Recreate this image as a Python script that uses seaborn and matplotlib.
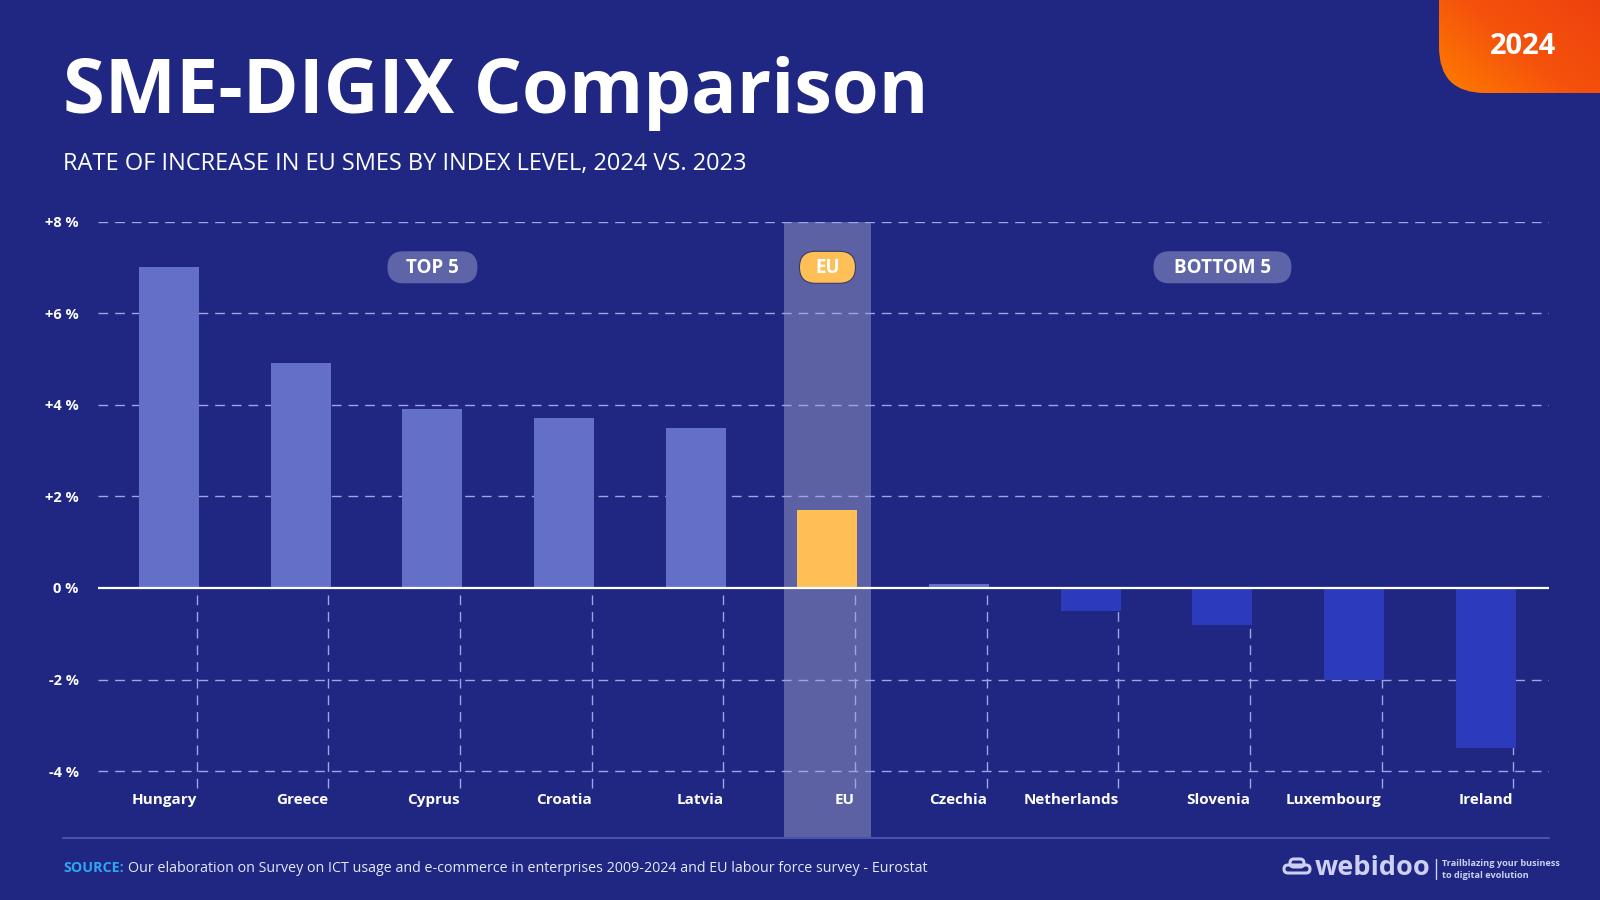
import matplotlib
matplotlib.use('Agg')
import matplotlib.pyplot as plt
import seaborn as sns
import numpy as np
import pandas as pd
from matplotlib.patches import FancyBboxPatch
from matplotlib.colors import LinearSegmentedColormap

# data
countries = ['Hungary', 'Greece', 'Cyprus', 'Croatia', 'Latvia', 'EU',
             'Czechia', 'Netherlands', 'Slovenia', 'Luxembourg', 'Ireland']
rates = [7.0, 4.9, 3.9, 3.7, 3.5, 1.7, 0.08, -0.5, -0.8, -2.0, -3.5]
y_ticks = [8, 6, 4, 2, 0, -2, -4]
y_labels = ['+8 %', '+6 %', '+4 %', '+2 %', '0 %', '-2 %', '-4 %']
pill_labels = ['TOP 5', 'EU', 'BOTTOM 5']
pill_centers = [2, 5, 8]

title = 'SME-DIGIX Comparison'
subtitle = 'RATE OF INCREASE IN EU SMES BY INDEX LEVEL, 2024 VS. 2023'
source_head = 'SOURCE:'
source_body = ('Our elaboration on Survey on ICT usage and e-commerce in enterprises '
               '2009-2024 and EU labour force survey - Eurostat')
year_badge = '2024'

df = pd.DataFrame({'country': countries, 'rate': rates})

navy = '#1F2782'
grid_col = '#9EA5E6'
# EU in yellow, increases light blue, decreases deep blue
bar_colors = {}
for c, v in zip(countries, rates):
    if c == 'EU':
        bar_colors[c] = '#FFBF57'
    elif v > 0:
        bar_colors[c] = '#6470C8'
    else:
        bar_colors[c] = '#2B3BBB'

sns.set_theme(style='dark')
plt.rcParams['font.family'] = ['Open Sans', 'DejaVu Sans']

fig = plt.figure(figsize=(16, 9), dpi=100, facecolor=navy)
ax = fig.add_axes([98 / 1600, 62 / 900, 1451 / 1600, 616.5 / 900])
ax.set_facecolor('none')

sns.barplot(data=df, x='country', y='rate', hue='country', palette=bar_colors,
            width=0.456, dodge=False, errorbar=None, legend=False,
            saturation=1, linewidth=0, edgecolor='none', ax=ax, zorder=3)

ax.set_xlim(-0.54, 10.48)
ax.set_ylim(-5.46, 8)

# EU highlight band
ax.axvspan(5 - 0.333, 5 + 0.333, color='white', alpha=0.27, lw=0, zorder=0)

# horizontal grid
for v in y_ticks:
    if v == 0:
        ax.axhline(0, color='white', lw=1.6, zorder=4)
    else:
        ax.axhline(v, color=grid_col, lw=1, ls=(0, (7, 5)), zorder=1)

# vertical dashed guides and labels
xs = np.arange(len(countries))
ax.vlines(xs + 0.21, -4.37, 0, color=grid_col, lw=1, linestyles=(0, (7, 5)), zorder=1)
for i, name in enumerate(countries):
    ax.text(i + 0.21, -4.64, name, ha='right', va='center', color='white',
            fontsize=11, fontweight='bold', zorder=5)

ax.set_yticks(y_ticks, y_labels)
ax.tick_params(axis='y', length=0, pad=14, labelcolor='white', labelsize=10.5)
for t in ax.get_yticklabels():
    t.set_fontweight('bold')
ax.set_xticks([])
ax.set_xlabel('')
ax.set_ylabel('')
for s in ax.spines.values():
    s.set_visible(False)
ax.grid(False)

# overlay in pixel coordinates for decoration
ov = fig.add_axes([0, 0, 1, 1], zorder=10)
ov.set_xlim(0, 1600)
ov.set_ylim(900, 0)
ov.axis('off')
ov.patch.set_alpha(0)

# year badge with gradient
badge = FancyBboxPatch((1439, -100), 300, 193, boxstyle='round,pad=0,rounding_size=46',
                       fc='none', ec='none')
ov.add_patch(badge)
cmap = LinearSegmentedColormap.from_list('badge', ['#FF7D00', '#F5520C', '#EE420E'])
gx, gy = np.meshgrid(np.linspace(0, 1, 200), np.linspace(0, 1, 100))
grad = 0.6 * gx + 0.4 * (1 - gy)
img = ov.imshow(grad, cmap=cmap, extent=(1439, 1600, 93, 0), aspect='auto', zorder=1)
img.set_clip_path(badge)
ov.text(1523, 47, year_badge, ha='center', va='center', color='white',
        fontsize=21, fontweight='bold', zorder=2)

# titles
ov.text(63, 113, title, ha='left', va='baseline', color='white',
        fontsize=54.5, fontweight='bold')
ov.text(63, 170, subtitle, ha='left', va='baseline', color='white',
        fontsize=17, fontweight='normal')

# pills above the groups
fig.canvas.draw()
pill_w = {'TOP 5': 90, 'EU': 56, 'BOTTOM 5': 138}
for lab, cx in zip(pill_labels, pill_centers):
    px, py = ov.transData.inverted().transform(ax.transData.transform((cx, 7.0)))
    w, h = pill_w[lab], 32
    fc = '#FFBF57' if lab == 'EU' else '#5E64A8'
    ov.add_patch(FancyBboxPatch((px - w / 2, py - h / 2), w, h,
                                boxstyle='round,pad=0,rounding_size=16',
                                fc=fc, ec='#3A3A6A' if lab == 'EU' else 'none', lw=0.8))
    ov.text(px, py + 1, lab, ha='center', va='center', color='white',
            fontsize=13.5, fontweight='bold')

# bottom separator
ov.plot([63, 1549], [838, 838], color='#4853B0', lw=1.5)

# source line
r = fig.canvas.get_renderer()
t1 = ov.text(63, 868, source_head, ha='left', va='center', color='#2FA6F2',
             fontsize=10.3, fontweight='bold')
bb = t1.get_window_extent(renderer=r)
x_end = ov.transData.inverted().transform((bb.x1, bb.y0))[0]
ov.text(x_end + 4, 868, source_body, ha='left', va='center', color='#E6E8FA',
        fontsize=10.3)

# logo
logo_col = '#CDD0F2'
ov.add_patch(FancyBboxPatch((1284, 865), 26, 8, boxstyle='round,pad=0,rounding_size=4',
                            fc='none', ec=logo_col, lw=2.2))
ov.add_patch(FancyBboxPatch((1290, 859), 14, 8, boxstyle='round,pad=0,rounding_size=4',
                            fc='none', ec=logo_col, lw=2.2))
ov.text(1315, 868, 'webidoo', ha='left', va='center', color=logo_col,
        fontsize=19.5, fontweight='bold')
ov.plot([1436, 1436], [859, 879], color=logo_col, lw=1)
ov.text(1442, 864, 'Trailblazing your business', ha='left', va='center',
        color=logo_col, fontsize=6.6, fontweight='bold')
ov.text(1442, 875, 'to digital evolution', ha='left', va='center',
        color=logo_col, fontsize=6.6, fontweight='bold')

fig.savefig('out.png', dpi=100, facecolor=navy)
